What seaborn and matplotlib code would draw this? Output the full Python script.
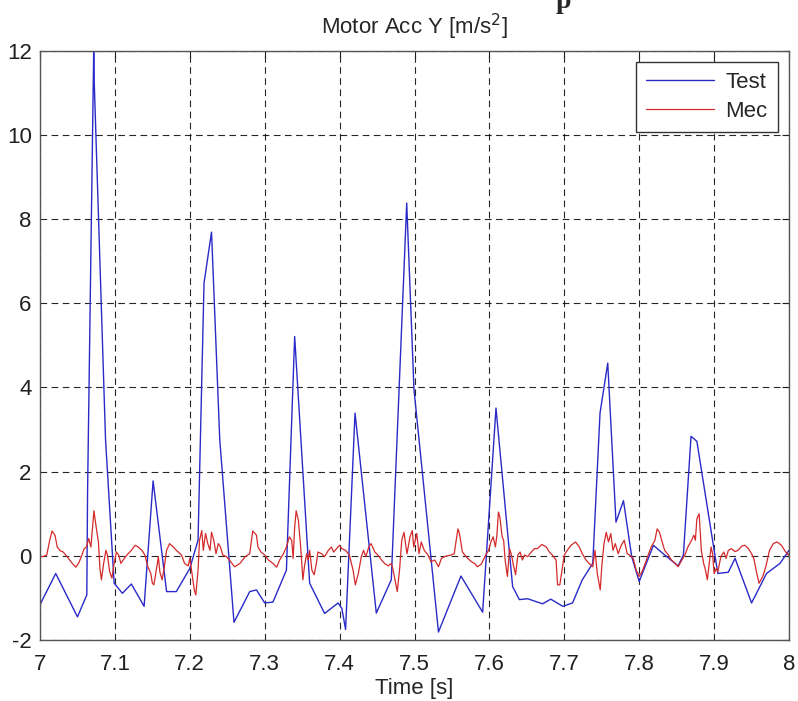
import numpy as np
import pandas as pd
import seaborn as sns
import matplotlib.pyplot as plt

# Data #########################################################################
test_t = [7.000, 7.021, 7.050, 7.0625, 7.0635, 7.0717, 7.0725, 7.0875, 7.099, 7.110,
          7.122, 7.139, 7.151, 7.169, 7.182, 7.200, 7.211, 7.219, 7.229, 7.240,
          7.259, 7.280, 7.289, 7.300, 7.311, 7.329, 7.340, 7.360, 7.380, 7.398,
          7.403, 7.408, 7.4206, 7.449, 7.469, 7.4896, 7.4993, 7.532, 7.562, 7.591,
          7.6088, 7.631, 7.640, 7.651, 7.671, 7.682, 7.698, 7.711, 7.724, 7.738,
          7.7477, 7.758, 7.769, 7.779, 7.790, 7.800, 7.819, 7.832, 7.852, 7.859,
          7.8692, 7.877, 7.905, 7.919, 7.928, 7.950, 7.970, 7.988, 8.000]
test_v = [-1.16, -0.42, -1.45, -0.93, 1.5, 11.99, 11.2, 2.76, -0.65, -0.89,
          -0.67, -1.20, 1.78, -0.85, -0.85, -0.30, 0.37, 6.48, 7.69, 2.76,
          -1.58, -0.85, -0.81, -1.12, -1.10, -0.34, 5.21, -0.65, -1.37, -1.12,
          -1.25, -1.75, 3.39, -1.36, -0.57, 8.38, 3.95, -1.81, -0.48, -1.34,
          3.51, -0.73, -1.04, -1.02, -1.14, -1.03, -1.20, -1.12, -0.57, -0.18,
          3.39, 4.58, 0.80, 1.31, -0.02, -0.61, 0.25, 0.05, -0.24, 0.02,
          2.84, 2.72, -0.42, -0.39, -0.06, -1.12, -0.42, -0.18, 0.13]

mec_t = [7.000, 7.004, 7.009, 7.013, 7.016, 7.020, 7.023, 7.027, 7.031, 7.038,
         7.043, 7.048, 7.052, 7.056, 7.059, 7.062, 7.065, 7.068, 7.070, 7.072,
         7.075, 7.078, 7.080, 7.082, 7.085, 7.088, 7.090, 7.093, 7.096, 7.099,
         7.102, 7.105, 7.108, 7.111, 7.116, 7.122, 7.127, 7.131, 7.136, 7.140,
         7.144, 7.148, 7.150, 7.152, 7.156, 7.158, 7.160, 7.163, 7.166, 7.169,
         7.173, 7.178, 7.182, 7.189, 7.193, 7.198, 7.200, 7.202, 7.206, 7.208,
         7.211, 7.213, 7.216, 7.218, 7.221, 7.224, 7.227, 7.229, 7.232, 7.235,
         7.238, 7.241, 7.244, 7.249, 7.253, 7.258,
         7.260, 7.267, 7.274, 7.280, 7.284, 7.289, 7.291, 7.295, 7.300, 7.305,
         7.311, 7.316, 7.320, 7.325, 7.329, 7.333, 7.336, 7.338, 7.340, 7.342,
         7.345, 7.348, 7.351, 7.353, 7.356, 7.358, 7.360, 7.363, 7.366, 7.369,
         7.371, 7.376, 7.380, 7.385, 7.389, 7.392, 7.396, 7.400, 7.403, 7.408,
         7.413, 7.418, 7.421, 7.425, 7.429, 7.432, 7.435, 7.439, 7.442, 7.447,
         7.451, 7.456, 7.460, 7.465, 7.469, 7.471, 7.474, 7.477, 7.480, 7.483,
         7.486, 7.488, 7.490, 7.494, 7.497, 7.499, 7.503, 7.506, 7.509, 7.513,
         7.518, 7.522, 7.527, 7.532, 7.536, 7.540, 7.544, 7.549, 7.553, 7.558,
         7.560, 7.564, 7.567, 7.571, 7.576, 7.580, 7.584, 7.589, 7.593, 7.596,
         7.599, 7.602, 7.605, 7.608, 7.610, 7.612, 7.614, 7.617, 7.619, 7.621,
         7.624, 7.627, 7.630, 7.632, 7.635, 7.638, 7.641, 7.644, 7.647, 7.651,
         7.656, 7.660, 7.664, 7.670, 7.676, 7.680, 7.684, 7.689, 7.691, 7.694,
         7.697, 7.700, 7.704, 7.709, 7.715, 7.720, 7.724, 7.729, 7.733, 7.738,
         7.741, 7.744, 7.748, 7.750, 7.753, 7.756, 7.759, 7.762, 7.765, 7.768,
         7.772, 7.776, 7.780, 7.784, 7.787, 7.792, 7.796, 7.800, 7.804, 7.808,
         7.812, 7.816, 7.821, 7.824, 7.827, 7.830, 7.834, 7.839, 7.843, 7.848,
         7.852, 7.857, 7.861, 7.865, 7.870, 7.873, 7.875, 7.877, 7.880, 7.883,
         7.886, 7.888, 7.891, 7.894, 7.896, 7.898, 7.900, 7.903, 7.905, 7.909,
         7.913, 7.916, 7.919, 7.923, 7.928, 7.932, 7.937, 7.941, 7.946, 7.950,
         7.953, 7.957, 7.960, 7.965, 7.969, 7.974, 7.979, 7.984, 7.990, 7.994,
         7.999, 8.000]
mec_v = [-0.01, -0.02, 0.02, 0.37, 0.59, 0.49, 0.21, 0.12, 0.09, -0.06,
         -0.18, -0.27, -0.16, 0.02, 0.17, 0.21, 0.41, 0.21, 0.64, 1.07,
         0.68, 0.33, -0.30, -0.57, -0.18, 0.13, 0.02, -0.38, -0.53, -0.18,
         0.09, 0.02, -0.18, -0.10, 0.02, 0.13, 0.25, 0.21, 0.13, 0.02,
         -0.26, -0.42, -0.65, -0.69, -0.26, -0.02, -0.38, -0.57, -0.26, 0.13,
         0.29, 0.21, 0.13, 0.02, -0.18, -0.24, -0.06, -0.30, -0.81, -0.93,
         -0.34, 0.37, 0.60, 0.13, 0.53, 0.29, 0.13, 0.56, 0.37, 0.05,
         0.29, 0.21, 0.02, -0.02, -0.10, -0.22,
         -0.26, -0.18, -0.02, 0.05, 0.59, 0.49, 0.21, 0.09, 0.02, -0.10,
         -0.18, -0.27, -0.10, 0.05, 0.21, 0.45, 0.37, -0.06, 0.68, 1.07,
         0.84, 0.21, -0.57, -0.26, 0.05, -0.10, 0.13, -0.34, -0.45, -0.18,
         0.09, 0.05, -0.02, 0.13, 0.21, 0.09, 0.17, 0.25, 0.17, 0.13,
         0.02, -0.34, -0.69, -0.42, -0.02, 0.13, -0.02, 0.21, 0.29, 0.09,
         0.02, -0.10, -0.18, -0.24, -0.18, -0.30, -0.57, -0.85, -0.34, 0.37,
         0.56, 0.29, 0.05, 0.45, 0.60, 0.21, 0.53, 0.05, 0.33, 0.13,
         0.02, -0.14, -0.10, -0.26, -0.06, -0.02, 0.00, 0.02, 0.05, 0.64,
         0.53, 0.09, 0.02, -0.06, -0.14, -0.18, -0.26, -0.20, -0.06, 0.05,
         0.13, 0.33, 0.45, 0.21, 0.49, 1.04, 0.92, 0.45, 0.37, -0.10,
         -0.49, 0.17, -0.02, -0.22, -0.45, 0.02, 0.09, -0.10, 0.02, -0.02,
         0.09, 0.17, 0.17, 0.27, 0.21, 0.09, 0.02, -0.10, -0.69, -0.69,
         -0.34, 0.02, 0.13, 0.25, 0.33, 0.21, 0.05, -0.10, -0.18, -0.26,
         0.13, -0.42, -0.81, -0.26, 0.29, 0.56, 0.33, 0.53, 0.13, 0.29,
         0.05, 0.25, 0.37, 0.05, 0.02, -0.06, -0.34, -0.49, -0.37, -0.18,
         0.02, 0.21, 0.37, 0.64, 0.56, 0.37, 0.13, 0.02, -0.10, -0.18,
         -0.26, -0.10, 0.02, 0.21, 0.37, 0.49, 0.37, 0.88, 1.00, 0.13,
         -0.18, -0.30, -0.57, -0.10, 0.21, 0.05, -0.42, -0.30, -0.38, -0.02,
         0.09, -0.06, 0.13, 0.17, 0.10, 0.13, 0.23, 0.25, 0.17, 0.05,
         -0.06, -0.42, -0.65, -0.49, -0.26, 0.13, 0.29, 0.33, 0.25, 0.13,
         0.02, 0.05]

x_ticks = [7.0, 7.1, 7.2, 7.3, 7.4, 7.5, 7.6, 7.7, 7.8, 7.9, 8.0]
x_labels = ["7", "7.1", "7.2", "7.3", "7.4", "7.5", "7.6", "7.7", "7.8", "7.9", "8"]
y_ticks = [-2, 0, 2, 4, 6, 8, 10, 12]

test = pd.DataFrame({"t": test_t, "v": test_v})
mec = pd.DataFrame({"t": mec_t, "v": mec_v})

# Style ########################################################################
sns.set_style("white")
plt.rcParams['font.family'] = ['Liberation Sans', 'DejaVu Sans']
plt.rcParams['axes.unicode_minus'] = False

fig = plt.figure(figsize=(7.98, 7.01), dpi=100)
ax = fig.add_axes([40 / 798, 1 - 640 / 701, 749 / 798, 589.3 / 701])

sns.lineplot(data=test, x="t", y="v", ax=ax, color="#2a2ac8", lw=1.0,
             estimator=None, sort=False, label="Test")
sns.lineplot(data=mec, x="t", y="v", ax=ax, color="#d42a2a", lw=0.9,
             estimator=None, sort=False, label="Mec")

ax.set_xlim(7, 8)
ax.set_ylim(-2, 12)
ax.set_xticks(x_ticks)
ax.set_xticklabels(x_labels)
ax.set_yticks(y_ticks)
ax.grid(True, color="black", linestyle=(0, (6, 4)), lw=0.8, alpha=0.85)
ax.tick_params(direction="in", length=5, width=0.8, top=True, right=True,
               labelsize=16, colors="#202020")
ax.tick_params(axis="x", pad=10)
ax.tick_params(axis="y", pad=6)
for s in ax.spines.values():
    s.set_color("#555555")
    s.set_linewidth(1.0)

ax.set_title("Motor Acc Y [m/s$^2$]", fontsize=16, pad=12)
ax.set_xlabel("Time [s]", fontsize=16, labelpad=2)
ax.set_ylabel("")

leg = ax.legend(loc="upper right", bbox_to_anchor=(0.985, 0.981), borderaxespad=0,
                fontsize=16, handlelength=3.1, handletextpad=0.5, fancybox=False,
                framealpha=1, edgecolor="#333333", borderpad=0.45, labelspacing=0.35)
leg.get_frame().set_linewidth(1.0)

# cropped heading glyph at the very top of the page
fig.text(563 / 798, 1 - 8 / 701, "p", family="Liberation Serif", fontweight="bold",
         fontsize=20, ha="center", va="baseline")

fig.savefig("out.png", dpi=100)
